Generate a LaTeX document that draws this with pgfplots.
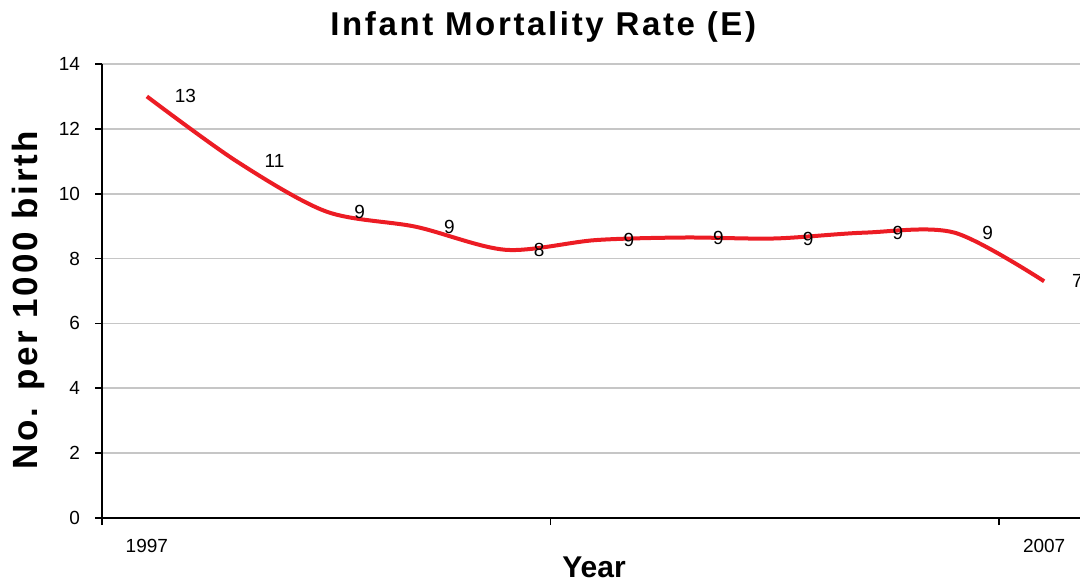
\documentclass[border=0pt]{standalone}
\usepackage{fontspec}
\setmainfont{Liberation Sans}
\newfontfamily\spacedfont[LetterSpace=8]{Liberation Sans}
\usepackage{pgfplots}
\usepackage{pgfplotstable}
\pgfplotsset{compat=1.18}
\definecolor{imrred}{RGB}{236,28,36}

\pgfplotstableread{
x y lab
0 13.0 13
1 11.0 11
2 9.45 9
3 8.98 9
4 8.27 8
5 8.57 9
6 8.65 9
7 8.62 9
8 8.80 9
9 8.80 9
10 7.30 7
}\imr

\begin{document}
\begin{tikzpicture}
\begin{axis}[
  scale only axis,
  width=493.5pt, height=227pt,
  xmin=-0.5, xmax=10.5, ymin=0, ymax=14,
  ytick={0,2,...,14},
  xtick={-0.5,4.5,9.5}, xticklabels={},
  extra x ticks={0,10}, extra x tick labels={1997,2007},
  extra x tick style={major tick length=0pt, grid=none, xticklabel style={yshift=-7pt}},
  axis x line*=bottom, axis y line*=left,
  axis line style={black, line width=1pt},
  tick style={black, line width=0.8pt},
  tick align=outside, major tick length=3.5pt,
  ymajorgrids, grid style={gray!45, line width=0.9pt},
  /pgf/number format/assume math mode=true,
  ticklabel style={font=\fontsize{9.5}{11}\selectfont},
  yticklabel style={xshift=-4pt},
  title={\spacedfont\bfseries\fontsize{16.5}{19}\selectfont Infant Mortality Rate (E)},
  title style={at={(axis description cs:0.447,1.055)}, anchor=center},
  xlabel={\bfseries\fontsize{15}{17}\selectfont Year},
  xlabel style={at={(axis description cs:0.4985,-0.108)}, anchor=center},
  ylabel={\spacedfont\bfseries\fontsize{17.5}{20}\selectfont No. per 1000 birth},
  ylabel style={at={(axis description cs:-0.075,0.48)}, anchor=center},
  nodes near coords={\pgfplotspointmeta},
  point meta=explicit symbolic,
  every node near coord/.append style={anchor=west, xshift=13pt, inner sep=0pt,
     font=\fontsize{9.5}{11}\selectfont, text=black},
]
\addplot[imrred, line width=2pt, smooth, no markers] table[x=x, y=y, meta=lab] {\imr};
\end{axis}
\pgfresetboundingbox
\path[use as bounding box] (-51pt,-33.5pt) rectangle (489pt,259pt);
\end{tikzpicture}
\end{document}
